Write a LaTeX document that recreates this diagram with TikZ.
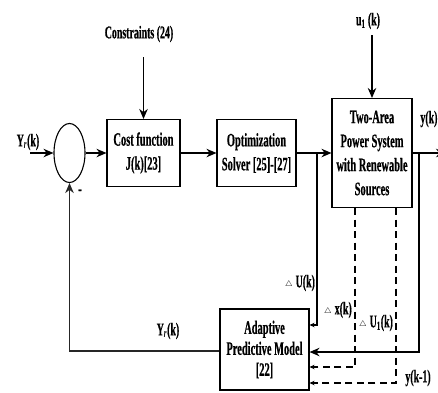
\documentclass[tikz,border=0pt]{standalone}
\usepackage{fontspec}
\setmainfont{Liberation Serif}[FakeStretch=0.55,BoldFeatures={FakeBold=0.5}]
\usetikzlibrary{arrows.meta,positioning,shapes.geometric,calc}

\newcommand{\dtri}{\raisebox{0.5pt}{\fontsize{8.5}{9}\selectfont$\triangle$}\,}

\begin{document}
\begin{tikzpicture}[x=1pt,y=-1pt,line width=1.1pt,
  every node/.style={font=\bfseries\fontsize{18}{21}\selectfont, inner sep=1pt},
  >={Stealth[length=10pt,width=8.5pt]},
  blk/.style={draw, align=center, inner sep=0pt, font=\bfseries\fontsize{19}{24}\selectfont},
  fb/.style={dash pattern=on 7pt off 4.5pt},
  small/.style={-{Stealth[length=5pt,width=4.5pt]}},
  back/.style={line width=1.8pt, black!85}]
  \useasboundingbox (0,0) rectangle (438,392);
  % blocks
  \node[draw,ellipse,minimum width=31pt,minimum height=59pt,inner sep=0pt] (sum) at (69.5,153) {};
  \node[blk,minimum width=73pt,minimum height=67pt] (cost) at (143.5,153) {Cost function\\J(k)[23]};
  \node[blk,minimum width=79pt,minimum height=67pt] (opt) at (256.5,153) {Optimization\\Solver [25]-[27]};
  \node[blk,minimum width=80pt,minimum height=109pt] (plant) at (372,153) {Two-Area\\Power System\\with Renewable\\Sources};
  \node[blk,minimum width=89pt,minimum height=81pt,font=\bfseries\fontsize{19}{21}\selectfont] (apm) at (264.5,349.5) {Adaptive\\Predictive Model\\{[22]}};
  % inputs
  \coordinate (in) at (30,153);
  \node (yr) at (28,142) {Y\textsubscript{\itshape r}(k)};
  \coordinate (con) at (143.5,57);
  \node (conl) at (139,34) {Constraints (24)};
  \coordinate (u1s) at (372,35);
  \node (u1) at (368,21) {u\textsubscript{1} (k)};
  \coordinate (out) at (446,153);
  \node[anchor=east,inner sep=0pt] (yk) at (438,119) {y(k)};
  \draw[->] (in) -- (sum);
  \draw[->] (sum) -- (cost);
  \draw[->] (con) -- (cost);
  \draw[->] (cost) -- (opt);
  \draw[->] (opt) -- (plant);
  \draw[->] (u1s) -- (plant);
  \draw[->] (plant) -- (out);
  % feedback to the model
  \coordinate (j1) at (317,153);
  \coordinate (j2) at (419,153);
  \draw[small] (j1) |- ([yshift=24.5pt]apm.east);
  \draw[->] (j2) |- ([yshift=-2.5pt]apm.east);
  \draw[fb,small] ([xshift=-17pt]plant.south) |- ([yshift=-17.5pt]apm.east);
  \draw[fb,small] ([xshift=24pt]plant.south) |- ([yshift=-33.5pt]apm.east);
  \draw[back,->] ([yshift=-1.5pt]apm.west) -| (sum);
  % labels
  \node (du) at (300,283) {\dtri U(k)};
  \node (dx) at (338,310) {\dtri x(k)};
  \node (du1) at (376,323) {\dtri U\textsubscript{1}(k)};
  \node (ykm) at (418,378) {y(k-1)};
  \node (yr2) at (168,331) {Y\textsubscript{\itshape r}(k)};
  \node (minus) at (80,192) {-};
\end{tikzpicture}
\end{document}
